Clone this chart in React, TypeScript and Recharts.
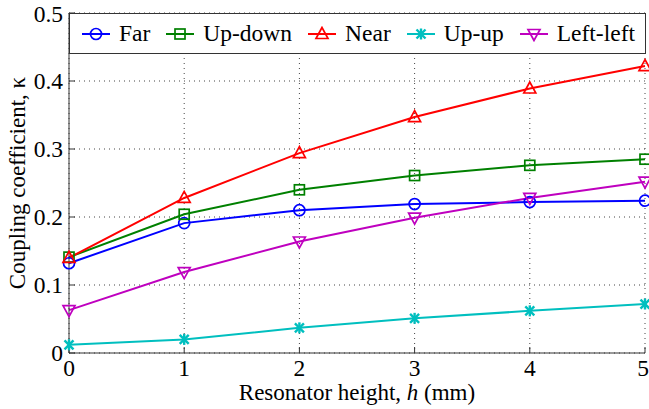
import React from 'react';
import { LineChart, Line, XAxis, YAxis, CartesianGrid, Legend } from 'recharts';

const heights = [0, 1, 2, 3, 4, 5];
const kappaTicks = [0, 0.1, 0.2, 0.3, 0.4, 0.5];

const far = [0.132, 0.191, 0.21, 0.219, 0.222, 0.224];
const upDown = [0.141, 0.204, 0.24, 0.261, 0.276, 0.285];
const near = [0.14, 0.228, 0.294, 0.347, 0.389, 0.422];
const upUp = [0.012, 0.02, 0.037, 0.051, 0.062, 0.072];
const leftLeft = [0.063, 0.119, 0.164, 0.199, 0.228, 0.252];

const seriesInfo = [
  { key: 'far', name: 'Far', color: '#0000ff', marker: 'circle' },
  { key: 'upDown', name: 'Up-down', color: '#008000', marker: 'square' },
  { key: 'near', name: 'Near', color: '#ff0000', marker: 'triUp' },
  { key: 'upUp', name: 'Up-up', color: '#00bfbf', marker: 'star' },
  { key: 'leftLeft', name: 'Left-left', color: '#bf00bf', marker: 'triDown' },
];

const data = heights.map((h, i) => ({
  h,
  far: far[i],
  upDown: upDown[i],
  near: near[i],
  upUp: upUp[i],
  leftLeft: leftLeft[i],
}));

const FONT = 'Liberation Serif';

function markerShape(kind: string, cx: number, cy: number, color: string, key?: string) {
  const sw = 1.7;
  if (kind === 'circle') {
    return <circle key={key} cx={cx} cy={cy} r={5.5} fill="none" stroke={color} strokeWidth={sw} />;
  }
  if (kind === 'square') {
    return <rect key={key} x={cx - 5} y={cy - 5} width={10} height={10} fill="none" stroke={color} strokeWidth={sw} />;
  }
  if (kind === 'triUp') {
    return (
      <polygon key={key} points={`${cx},${cy - 6.5} ${cx - 6},${cy + 4.5} ${cx + 6},${cy + 4.5}`}
        fill="none" stroke={color} strokeWidth={sw} />
    );
  }
  if (kind === 'triDown') {
    return (
      <polygon key={key} points={`${cx},${cy + 6.5} ${cx - 6},${cy - 4.5} ${cx + 6},${cy - 4.5}`}
        fill="none" stroke={color} strokeWidth={sw} />
    );
  }
  const d = 4.5;
  return (
    <g key={key} stroke={color} strokeWidth={2.4}>
      <line x1={cx - d} y1={cy - d} x2={cx + d} y2={cy + d} />
      <line x1={cx - d} y1={cy + d} x2={cx + d} y2={cy - d} />
      <line x1={cx} y1={cy - d - 1} x2={cx} y2={cy + d + 1} />
    </g>
  );
}

function makeDot(kind: string, color: string) {
  return (props: any) => {
    const { cx, cy, index } = props;
    if (cx == null || cy == null) return <g key={`n-${index}`} />;
    return markerShape(kind, cx, cy, color, `${kind}-${index}`);
  };
}

function LegendBox() {
  return (
    <div
      style={{
        boxSizing: 'border-box',
        width: '100%',
        height: '100%',
        border: '1.5px solid #333',
        background: '#fff',
        display: 'flex',
        alignItems: 'center',
        justifyContent: 'space-between',
        padding: '0 10px 0 12px',
        fontFamily: FONT,
        fontSize: 23.5,
        color: '#000',
      }}
    >
      {seriesInfo.map((s) => (
        <div key={s.key} style={{ display: 'flex', alignItems: 'center' }}>
          <svg width={28} height={16} style={{ marginRight: 9 }}>
            <line x1={0} y1={8} x2={28} y2={8} stroke={s.color} strokeWidth={2} />
            {markerShape(s.marker, 14, 8, s.color)}
          </svg>
          <span>{s.name}</span>
        </div>
      ))}
    </div>
  );
}

const XLabel = (props: any) => {
  const { viewBox } = props;
  const cx = viewBox.x + viewBox.width / 2;
  return (
    <text x={cx} y={400} textAnchor="middle" fontFamily={FONT} fontSize={23} fill="#000">
      Resonator height, <tspan fontStyle="italic">h</tspan> (mm)
    </text>
  );
};

const YLabel = (props: any) => {
  const { viewBox } = props;
  const cy = viewBox.y + viewBox.height / 2;
  return (
    <text x={25} y={cy} transform={`rotate(-90, 25, ${cy})`} textAnchor="middle"
      fontFamily={FONT} fontSize={23} fill="#000">
      Coupling coefficient, κ
    </text>
  );
};

export default function App() {
  const tickStyle = { fontFamily: FONT, fontSize: 23.5, fill: '#000' };
  return (
    <div style={{ width: 649, height: 409, background: '#fff', fontFamily: FONT }}>
      <style>{`body{margin:0}`}</style>
      <LineChart width={649} height={409} data={data} margin={{ top: 13, right: 4, bottom: 0, left: 0 }}
        style={{ fontFamily: FONT }}>
        <CartesianGrid stroke="#444" strokeDasharray="1 4" />
        <XAxis
          dataKey="h"
          type="number"
          domain={[0, 5]}
          ticks={heights}
          height={56}
          stroke="#333"
          tick={tickStyle}
          tickSize={-6}
          tickMargin={12}
          label={<XLabel />}
        />
        <XAxis xAxisId="top" orientation="top" type="number" domain={[0, 5]} ticks={heights}
          height={0} stroke="#333" tick={false} />
        <YAxis
          type="number"
          domain={[0, 0.5]}
          ticks={kappaTicks}
          width={69}
          stroke="#333"
          tick={tickStyle}
          tickSize={-6}
          tickMargin={12}
          tickFormatter={(v: number) => (v === 0 ? '0' : v.toFixed(1))}
          label={<YLabel />}
        />
        <YAxis yAxisId="right" orientation="right" type="number" domain={[0, 0.5]} ticks={kappaTicks}
          width={0} stroke="#333" tick={false} tickSize={-6} />
        <Legend
          layout="horizontal"
          verticalAlign="middle"
          align="center"
          wrapperStyle={{ top: 13, left: 69, width: 577, height: 41 }}
          content={() => <LegendBox />}
        />
        {seriesInfo.map((s) => (
          <Line
            key={s.key}
            dataKey={s.key}
            name={s.name}
            stroke={s.color}
            strokeWidth={2}
            dot={makeDot(s.marker, s.color)}
            activeDot={false}
            isAnimationActive={false}
          />
        ))}
      </LineChart>
    </div>
  );
}
